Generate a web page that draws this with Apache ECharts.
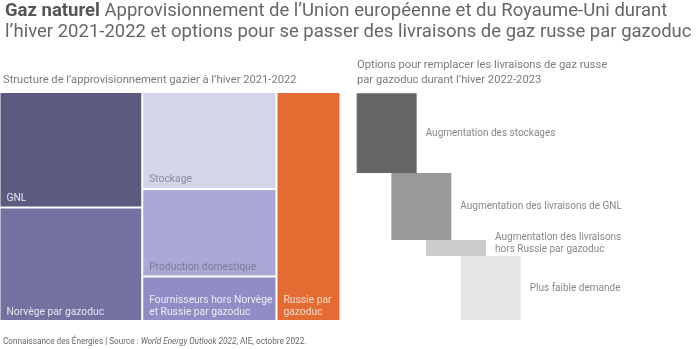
<!DOCTYPE html>
<html>
<head>
<meta charset="utf-8">
<script src="https://cdn.jsdelivr.net/npm/echarts@6/dist/echarts.min.js"></script>
<style>
  html, body { margin: 0; padding: 0; background: #fff; }
  #chart { width: 700px; height: 349px; }
</style>
</head>
<body>
<div id="chart"></div>
<script>
// Winter 2021-2022 supply structure (share, %), grouped in columns
var supplyNames = ['GNL', 'Norvège par gazoduc', 'Stockage', 'Production domestique',
  'Fournisseurs hors Norvège\net Russie par gazoduc', 'Russie par\ngazoduc'];
var supplyValues = [21.4, 20.7, 16.9, 15.3, 7.4, 18.3];
var supplyColumns = [0, 0, 1, 1, 1, 2];
var supplyColors = ['#5c5a7f', '#7271a0', '#d4d4ea', '#aba8d6', '#8f8cc6', '#e46c33'];
var supplyLabelColors = ['#e6e6f0', '#e6e6f0', '#8c8c9c', '#7c7a98', '#ececf6', '#f6dccd'];

// Options to replace Russian pipeline deliveries, winter 2022-2023 (share, %)
var optionNames = ['Augmentation des stockages', 'Augmentation des livraisons de GNL',
  'Augmentation des livraisons\nhors Russie par gazoduc', 'Plus faible demande'];
var optionValues = [35.2, 29.5, 7.1, 28.2];
var optionColors = ['#666666', '#999999', '#cccccc', '#e5e5e5'];

// Slice-and-dice layout: column widths follow column totals,
// cell heights follow each value's share of its column.
var total = supplyValues.reduce(function (a, b) { return a + b; }, 0);
var nCols = Math.max.apply(null, supplyColumns) + 1;
var colSums = [];
for (var c = 0; c < nCols; c++) colSums.push(0);
supplyValues.forEach(function (v, i) { colSums[supplyColumns[i]] += v; });
var colStart = [0];
for (var c2 = 1; c2 < nCols; c2++) colStart.push(colStart[c2 - 1] + colSums[c2 - 1]);
var colUsed = colSums.map(function () { return 0; });
var cells = supplyValues.map(function (v, i) {
  var col = supplyColumns[i];
  var y0 = colUsed[col] / colSums[col];
  colUsed[col] += v;
  var y1 = colUsed[col] / colSums[col];
  return [colStart[col], colStart[col] + colSums[col], y0, y1, i];
});

// Waterfall bases for the options panel
var optionTotal = optionValues.reduce(function (a, b) { return a + b; }, 0);
var optionBase = [];
var acc = 0;
optionValues.forEach(function (v) { optionBase.push(acc); acc += v; });

var GAP = 2;
var chart = echarts.init(document.getElementById('chart'), null, { renderer: 'canvas' });
chart.setOption({
  animation: false,
  textStyle: { fontFamily: 'Roboto' },
  title: [
    {
      left: 5, top: 1, padding: 0,
      text: '{b|Gaz naturel} Approvisionnement de l’Union européenne et du Royaume-Uni durant\nl’hiver 2021-2022 et options pour se passer des livraisons de gaz russe par gazoduc',
      textStyle: {
        fontFamily: 'Roboto', fontSize: 18.5, fontWeight: 'normal', color: '#666666', lineHeight: 21,
        rich: { b: { fontFamily: 'Roboto', fontSize: 18.5, fontWeight: 'bold', color: '#555555' } }
      }
    },
    {
      left: 3, top: 75, padding: 0,
      text: 'Structure de l’approvisionnement gazier à l’hiver 2021-2022',
      textStyle: { fontFamily: 'Roboto', fontSize: 11.2, fontWeight: 'normal', color: '#7a7a7a' }
    },
    {
      left: 357, top: 57.5, padding: 0,
      text: 'Options pour remplacer les livraisons de gaz russe\npar gazoduc durant l’hiver 2022-2023',
      textStyle: { fontFamily: 'Roboto', fontSize: 11.2, fontWeight: 'normal', color: '#7a7a7a', lineHeight: 15 }
    },
    {
      left: 3, top: 338, padding: 0,
      text: 'Connaissance des Énergies | Source : {i|World Energy Outlook 2022}, AIE, octobre 2022.',
      textStyle: {
        fontFamily: 'Roboto', fontSize: 8.2, fontWeight: 'normal', color: '#666666',
        rich: { i: { fontFamily: 'Roboto', fontSize: 8.2, fontStyle: 'italic', color: '#666666' } }
      }
    }
  ],
  grid: [
    { left: 0.5, top: 93, width: 339, height: 227 },
    { left: 369.3, top: 93.3, width: 138.8, height: 226.7 }
  ],
  xAxis: [
    { type: 'value', gridIndex: 0, min: 0, max: total, show: false },
    { type: 'category', gridIndex: 1, data: optionNames, show: false }
  ],
  yAxis: [
    { type: 'value', gridIndex: 0, min: 0, max: 1, inverse: true, show: false },
    { type: 'value', gridIndex: 1, min: 0, max: optionTotal, inverse: true, show: false }
  ],
  series: [
    {
      type: 'custom',
      xAxisIndex: 0, yAxisIndex: 0,
      data: cells,
      renderItem: function (params, api) {
        var i = api.value(4);
        var p0 = api.coord([api.value(0), api.value(2)]);
        var p1 = api.coord([api.value(1), api.value(3)]);
        var lastX = api.value(1) >= total - 1e-9;
        var lastY = api.value(3) >= 1 - 1e-9;
        var w = p1[0] - p0[0] - (lastX ? 0 : GAP);
        var h = p1[1] - p0[1] - (lastY ? 0 : GAP);
        return {
          type: 'group',
          children: [
            { type: 'rect', shape: { x: p0[0], y: p0[1], width: w, height: h },
              style: { fill: supplyColors[i] } },
            { type: 'text', x: p0[0] + 6, y: p0[1] + h - 2,
              style: { text: supplyNames[i], fill: supplyLabelColors[i], fontFamily: 'Roboto',
                fontSize: 10.3, lineHeight: 12, verticalAlign: 'bottom', align: 'left' } }
          ]
        };
      }
    },
    {
      type: 'bar', xAxisIndex: 1, yAxisIndex: 1, stack: 'options',
      barWidth: 60, silent: true, clip: false,
      itemStyle: { color: 'transparent' },
      data: optionBase
    },
    {
      type: 'bar', xAxisIndex: 1, yAxisIndex: 1, stack: 'options',
      barWidth: 60, silent: true, clip: false,
      data: optionValues.map(function (v, i) {
        return {
          value: v,
          itemStyle: { color: optionColors[i] },
          label: i === 2 ? { offset: [0, -5] } : {}
        };
      }),
      label: {
        show: true, position: 'right', distance: 9,
        formatter: function (p) { return optionNames[p.dataIndex]; },
        fontFamily: 'Roboto', fontSize: 10, color: '#888888', lineHeight: 12
      }
    }
  ]
});
</script>
</body>
</html>
